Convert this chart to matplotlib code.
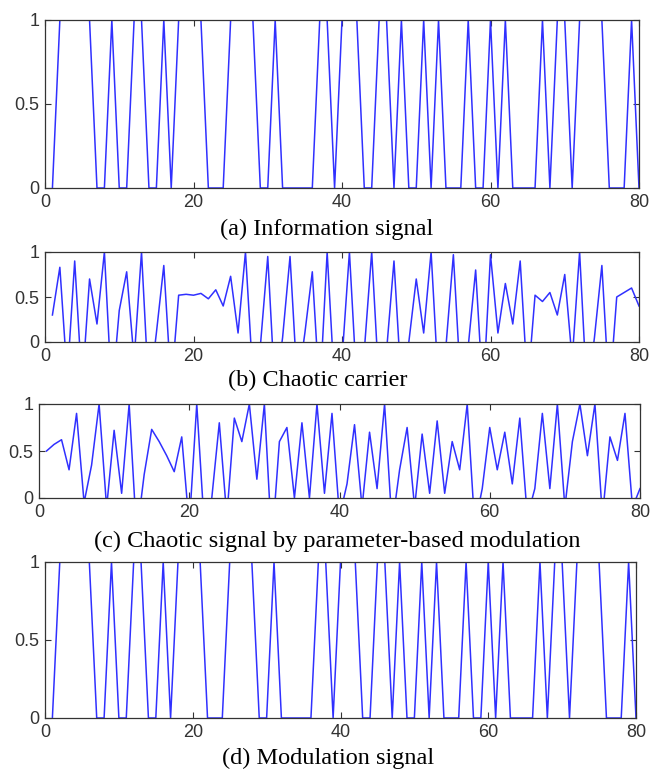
import numpy as np
import matplotlib
matplotlib.use("Agg")
import matplotlib.pyplot as plt

# time index (samples 1..80)
t = np.arange(1, 81)

# (a) information signal (binary)
info_bits = [0, 1, 1, 1, 1, 1, 0, 0, 1, 0,
             0, 1, 1, 0, 0, 1, 0, 1, 1, 1,
             1, 0, 0, 0, 1, 1, 1, 1, 0, 0,
             1, 0, 0, 0, 0, 0, 1, 1, 0, 1,
             1, 1, 0, 0, 1, 1, 0, 1, 0, 0,
             1, 0, 1, 0, 0, 0, 1, 0, 0, 1,
             0, 1, 0, 0, 0, 0, 1, 0, 1, 1,
             0, 1, 1, 1, 1, 0, 0, 0, 1, 0]

# (b) chaotic carrier (values below 0 are clipped by the axis)
carrier = [0.30, 0.83, -0.40, 0.90, -0.50, 0.70, 0.20, 1.00, -0.60, 0.35,
           0.78, -0.20, 1.00, -0.60, 0.10, 0.85, -0.50, 0.52, 0.53, 0.52,
           0.54, 0.48, 0.58, 0.40, 0.73, 0.10, 1.00, -0.40, -0.05, 0.95,
           -0.60, 0.05, 0.95, -0.50, 0.10, 0.78, -0.60, 1.00, -0.50, -0.20,
           1.00, -0.50, -0.10, 1.00, -0.50, -0.10, 0.90, -0.50, 0.00, 0.70,
           0.10, 1.00, -0.50, -0.05, 0.97, -0.50, -0.05, 0.80, -0.60, 0.97,
           0.10, 0.65, 0.20, 0.90, -0.50, 0.52, 0.45, 0.55, 0.30, 0.75,
           -0.20, 1.00, -0.60, 0.05, 0.85, -0.60, 0.50, 0.55, 0.60, 0.40]

# (c) chaotic signal by parameter-based modulation
chaos_mod = [0.50, 0.57, 0.62, 0.30, 0.90, -0.05, 0.35, 1.00, -0.10, 0.72,
             0.05, 1.00, -0.40, 0.25, 0.73, 0.60, 0.45, 0.28, 0.65, -0.30,
             1.00, -0.30, 0.00, 0.80, -0.20, 0.85, 0.60, 1.00, 0.20, 1.00,
             -0.50, 0.60, 0.75, 0.00, 0.80, 0.00, 1.00, 0.05, 0.90, -0.20,
             0.15, 0.78, -0.10, 0.70, 0.10, 1.00, -0.30, 0.30, 0.75, -0.10,
             0.68, 0.05, 0.82, 0.05, 0.60, 0.30, 1.00, -0.30, 0.10, 0.75,
             0.30, 0.70, 0.15, 0.85, -0.20, 0.10, 0.90, 0.10, 1.00, -0.10,
             0.60, 1.00, 0.45, 1.00, -0.20, 0.65, 0.40, 0.90, -0.10, 0.10]

# (d) modulation signal (same bits as the information signal)
mod_bits = info_bits

captions = ["(a) Information signal",
            "(b) Chaotic carrier",
            "(c) Chaotic signal by parameter-based modulation",
            "(d) Modulation signal"]

W, H = 656, 772
fig = plt.figure(figsize=(W / 100, H / 100), dpi=100)

# axes boxes in pixels: left, right, top, bottom
boxes = [(45, 639, 20, 188),
         (45, 639, 252, 342),
         (39, 640, 404, 498),
         (45, 636, 562, 718)]
caption_pos = [(327, 229), (318, 380), (337, 541), (328, 758)]
series = [info_bits, carrier, chaos_mod, mod_bits]

for (l, r, tp, b), y, cap, (cx, cy) in zip(boxes, series, captions, caption_pos):
    ax = fig.add_axes([l / W, 1 - b / H, (r - l) / W, (b - tp) / H])
    ax.plot(t, y, color='#3030ff', lw=1.1)
    ax.set_xlim(0, 80)
    ax.set_ylim(0, 1)
    ax.set_xticks([0, 20, 40, 60, 80])
    ax.set_yticks([0, 0.5, 1])
    ax.set_yticklabels(['0', '0.5', '1'])
    ax.tick_params(direction='in', top=True, right=True, length=4, width=0.8,
                   labelsize=13, labelcolor='#333333', color='#333333', pad=4)
    for lab in ax.get_xticklabels() + ax.get_yticklabels():
        lab.set_family('Liberation Sans')
    for s in ax.spines.values():
        s.set_color('#333333')
        s.set_linewidth(0.9)
    fig.text(cx / W, 1 - cy / H, cap, ha='center', va='center',
             family='Liberation Serif', fontsize=17.5)

plt.savefig('out.png', dpi=100)
